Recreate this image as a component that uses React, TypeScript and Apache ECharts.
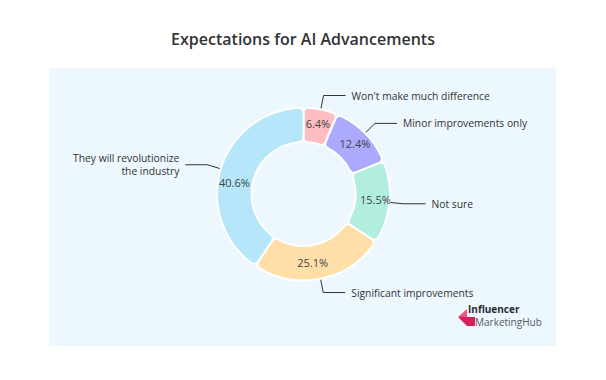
import React, { useEffect, useRef } from "react";
import * as echarts from "echarts";

const categories = [
  "Won't make much difference",
  "Minor improvements only",
  "Not sure",
  "Significant improvements",
  "They will revolutionize\nthe industry",
];
const values = [6.4, 12.4, 15.5, 25.1, 40.6];
const colors = ["#ffbcc1", "#abaaff", "#b1eedf", "#ffdfa7", "#b5e6f9"];
const titleText = "Expectations for AI Advancements";

const FONT = "'Open Sans', 'Noto Sans', sans-serif";
const insideOffsets: number[][] = [[0, 0], [0, 0], [0, -2], [-5, -2], [0, 10]];

export default function App() {
  const ref = useRef<HTMLDivElement>(null);
  useEffect(() => {
    if (!ref.current) return;
    const chart = echarts.init(ref.current, null, { renderer: "svg" });
    const data = categories.map((n, i) => ({
      name: n,
      value: values[i],
      itemStyle: { color: colors[i] },
      label: { offset: insideOffsets[i] },
    }));
    chart.setOption({
      animation: false,
      backgroundColor: "#ffffff",
      title: {
        text: titleText,
        left: "center",
        top: 26,
        textStyle: {
          fontFamily: FONT,
          fontSize: 16,
          fontWeight: 600,
          color: "#333333",
        },
      },
      graphic: [
        {
          type: "rect",
          z: -10,
          shape: { x: 49, y: 68, width: 507, height: 278 },
          style: { fill: "#edf7fe" },
          silent: true,
        },
        {
          type: "polygon",
          shape: { points: [[458, 317], [467, 309], [467, 317]] },
          style: { fill: "#f2537c" },
        },
        {
          type: "polygon",
          shape: { points: [[458, 317], [475, 317], [475, 326], [467, 326]] },
          style: { fill: "#d91d5b" },
        },
        {
          type: "text",
          x: 468,
          y: 303,
          style: {
            text: "Influencer",
            fontFamily: FONT,
            fontSize: 10,
            lineHeight: 12,
            fontWeight: "bold",
            fill: "#2b2b38",
          },
        },
        {
          type: "text",
          x: 475,
          y: 316,
          style: {
            text: "MarketingHub",
            fontFamily: FONT,
            fontSize: 10,
            lineHeight: 12,
            fill: "#55555f",
          },
        },
      ],
      series: [
        {
          type: "pie",
          center: [303.5, 194],
          radius: [52, 86.5],
          startAngle: 90,
          clockwise: true,
          avoidLabelOverlap: false,
          data,
          itemStyle: { borderColor: "#ffffff", borderWidth: 2, borderRadius: 5 },
          label: {
            show: true,
            position: "inside",
            formatter: "{c}%",
            fontFamily: FONT,
            fontSize: 11,
            color: "#444444",
          },
          labelLine: { show: false },
          emphasis: { disabled: true },
        },
        {
          type: "pie",
          center: [303.5, 194],
          radius: [52, 86.5],
          startAngle: 90,
          clockwise: true,
          avoidLabelOverlap: false,
          silent: true,
          data: categories.map((n, i) => ({ name: n, value: values[i] })),
          itemStyle: { color: "rgba(0,0,0,0)" },
          label: {
            show: true,
            position: "outside",
            formatter: "{b}",
            fontFamily: FONT,
            fontSize: 10.3,
            color: "#333333",
            lineHeight: 13,
            distanceToLabelLine: 6,
          },
          labelLine: {
            show: true,
            length: 14,
            length2: 22,
            lineStyle: { color: "#333333", width: 1 },
          },
          emphasis: { disabled: true },
        },
      ],
    });
    return () => chart.dispose();
  }, []);
  return (
    <div
      ref={ref}
      style={{ position: "fixed", left: 0, top: 0, width: 606, height: 380 }}
    />
  );
}
